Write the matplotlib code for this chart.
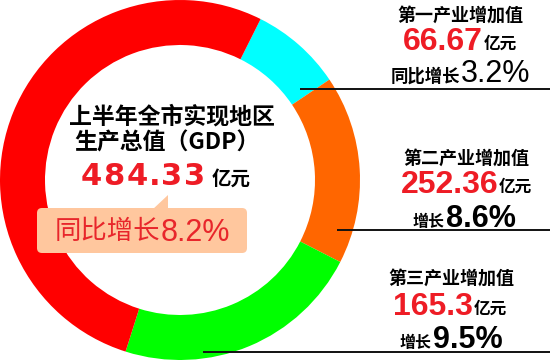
import matplotlib
matplotlib.use('Agg')
import matplotlib.pyplot as plt
from matplotlib.patches import FancyBboxPatch, Polygon

# ring arcs (degrees, clockwise from the top-right)
ring_labels = ['第一产业', '第二产业', '第三产业', '其余']
ring_arcs = [29.5, 61, 80.5, 189]
ring_colors = ['#00ffff', '#ff6600', '#00ff00', '#ff0000']

industry_names = ['第一产业增加值', '第二产业增加值', '第三产业增加值']
industry_values = [66.67, 252.36, 165.3]
growth_labels = ['同比增长', '增长', '增长']
growth_rates = [3.2, 8.6, 9.5]

total_title = ['上半年全市实现地区', '生产总值（GDP）']
total_gdp = 484.33
total_growth = 8.2

CJK = ['Noto Sans CJK SC', 'DejaVu Sans']
LAT = ['Liberation Sans', 'Noto Sans CJK SC']
RED = '#ee1c25'

fig = plt.figure(figsize=(5.5, 3.6), dpi=100)
ax = fig.add_axes([0, 0, 1, 1])

# pixel coords, y down -> mirrored angles
ax.pie(ring_arcs, colors=ring_colors, startangle=-63.4, counterclock=True,
       center=(180, 180), radius=180,
       wedgeprops=dict(width=45, linewidth=0))
ax.set_xlim(0, 550)
ax.set_ylim(360, 0)
ax.set_aspect('auto')
ax.axis('off')

# centre block
ax.text(172, 117, total_title[0], family=CJK, weight='bold', fontsize=16.5,
        color='black', ha='center', va='center')
ax.text(167, 143, total_title[1], family=CJK, weight='bold', fontsize=16.5,
        color='black', ha='center', va='center')

# the big number is letter-spaced, so set it char by char
half = lambda c: 6 if c == '.' else 11.5
xc = 91
prev = None
for c in f'{total_gdp:g}':
    if prev is not None:
        xc += half(prev) + half(c)
    ax.text(xc, 185, c, family=['DejaVu Sans'], weight='bold', fontsize=22,
            color=RED, ha='center', va='baseline')
    prev = c
ax.text(212, 185, '亿元', family=CJK, weight='bold', fontsize=14,
        color='black', ha='left', va='baseline')

box = FancyBboxPatch((40, 211), 204, 39, boxstyle='round,pad=3,rounding_size=5',
                     fc='#ffc79e', ec='none')
ax.add_patch(box)
ax.add_patch(Polygon([(168, 195), (152, 210), (168, 210)], closed=True,
                     fc='#ffc79e', ec='none'))
ax.text(160, 239, '同比增长', family=CJK, fontsize=19,
        color='#e8262b', ha='right', va='baseline')
ax.text(161, 241, f'{total_growth}%', family=LAT, fontsize=22,
        color='#e8262b', ha='left', va='baseline')

# right-hand labels
title_x = [460, 466, 451]
title_y = [15, 158, 278]
val_split = [483, 498, 473]
val_y = [50, 193, 315]
gr_split = [460, 445, 432]
gr_y = [82, 227, 348]
gr_bold = [False, True, True]
gr_label_size = [12.5, 11.5, 11.5]

for i in range(3):
    ax.text(title_x[i], title_y[i], industry_names[i], family=CJK, weight='bold',
            fontsize=13, color='black', ha='center', va='center')
    ax.text(val_split[i], val_y[i], f'{industry_values[i]:g}', family=LAT,
            weight='bold', fontsize=23, color=RED, ha='right', va='baseline')
    ax.text(val_split[i] + 1, val_y[i] - 1, '亿元', family=CJK, weight='bold',
            fontsize=12, color='black', ha='left', va='baseline')
    ax.text(gr_split[i], gr_y[i], growth_labels[i], family=CJK, weight='bold',
            fontsize=gr_label_size[i], color='black', ha='right', va='baseline')
    ax.text(gr_split[i] + 1, gr_y[i], f'{growth_rates[i]}%', family=LAT,
            weight='bold' if gr_bold[i] else 'normal', fontsize=22,
            color='black', ha='left', va='baseline')

line_y = [89, 230, 352]
line_x0 = [300, 337, 203]
for y0, x0 in zip(line_y, line_x0):
    ax.plot([x0, 550], [y0, y0], color='#111111', lw=1.4, solid_capstyle='butt')

fig.savefig('out.png', dpi=100)
